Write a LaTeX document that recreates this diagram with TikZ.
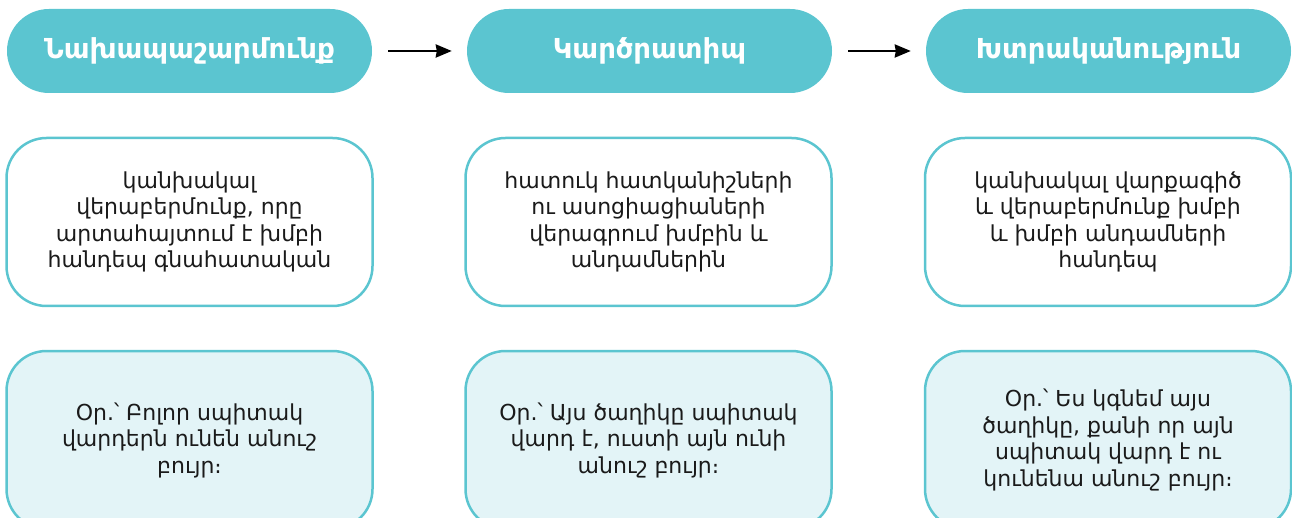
\documentclass[tikz,border=0pt]{standalone}
\usepackage{fontspec}
\setmainfont{DejaVu Sans}
\usetikzlibrary{arrows.meta}
\definecolor{teal}{HTML}{5BC5D0}
\definecolor{lightteal}{HTML}{E3F4F7}
\definecolor{txt}{HTML}{1A1A1A}
\tikzset{
  header/.style={fill=teal, draw=none, rounded corners=42pt, minimum width=365pt, minimum height=84pt, text=white, font=\bfseries\fontsize{27.5}{30}\selectfont, inner sep=0pt},
  defbox/.style={fill=white, draw=teal, line width=2.5pt, rounded corners=40pt, minimum width=366pt, minimum height=168pt, text=txt, align=center, font=\fontsize{22}{26.5}\selectfont, inner sep=0pt},
  exbox/.style={defbox, fill=lightteal, minimum height=178pt},
  flow/.style={line width=2.6pt, -{Stealth[length=16pt,width=13pt,inset=1pt]}, shorten <=16pt, shorten >=15pt}
}
\begin{document}
\begin{tikzpicture}
\useasboundingbox (0pt,0pt) rectangle (1292pt,-518pt);
\clip (0pt,0pt) rectangle (1292pt,-518pt);
\node[header] (h1) at (189.5pt,-51pt) {Նախապաշարմունք};
\node[header] (h2) at (649.5pt,-51pt) {Կարծրատիպ};
\node[header] (h3) at (1108.5pt,-51pt) {Խտրականություն};
\draw[flow] (h1) -- (h2);
\draw[flow] (h2) -- (h3);
\node[defbox] (d1) at (189.5pt,-222pt) {կանխակալ\\վերաբերմունք, որը\\արտահայտում է խմբի\\հանդեպ գնահատական};
\node[defbox] (d2) at (648.5pt,-222pt) {հատուկ հատկանիշների\\ու ասոցիացիաների\\վերագրում խմբին և\\անդամներին};
\node[defbox] (d3) at (1108pt,-222pt) {կանխակալ վարքագիծ\\և վերաբերմունք խմբի\\և խմբի անդամների\\հանդեպ};
\node[exbox] (e1) at (189.5pt,-440pt) {Օր.՝ Բոլոր սպիտակ\\վարդերն ունեն անուշ\\բույր։};
\node[exbox] (e2) at (648.5pt,-440pt) {Օր.՝ Այս ծաղիկը սպիտակ\\վարդ է, ուստի այն ունի\\անուշ բույր։};
\node[exbox] (e3) at (1108pt,-440pt) {Օր.՝ Ես կգնեմ այս\\ծաղիկը, քանի որ այն\\սպիտակ վարդ է ու\\կունենա անուշ բույր։};
\end{tikzpicture}
\end{document}
